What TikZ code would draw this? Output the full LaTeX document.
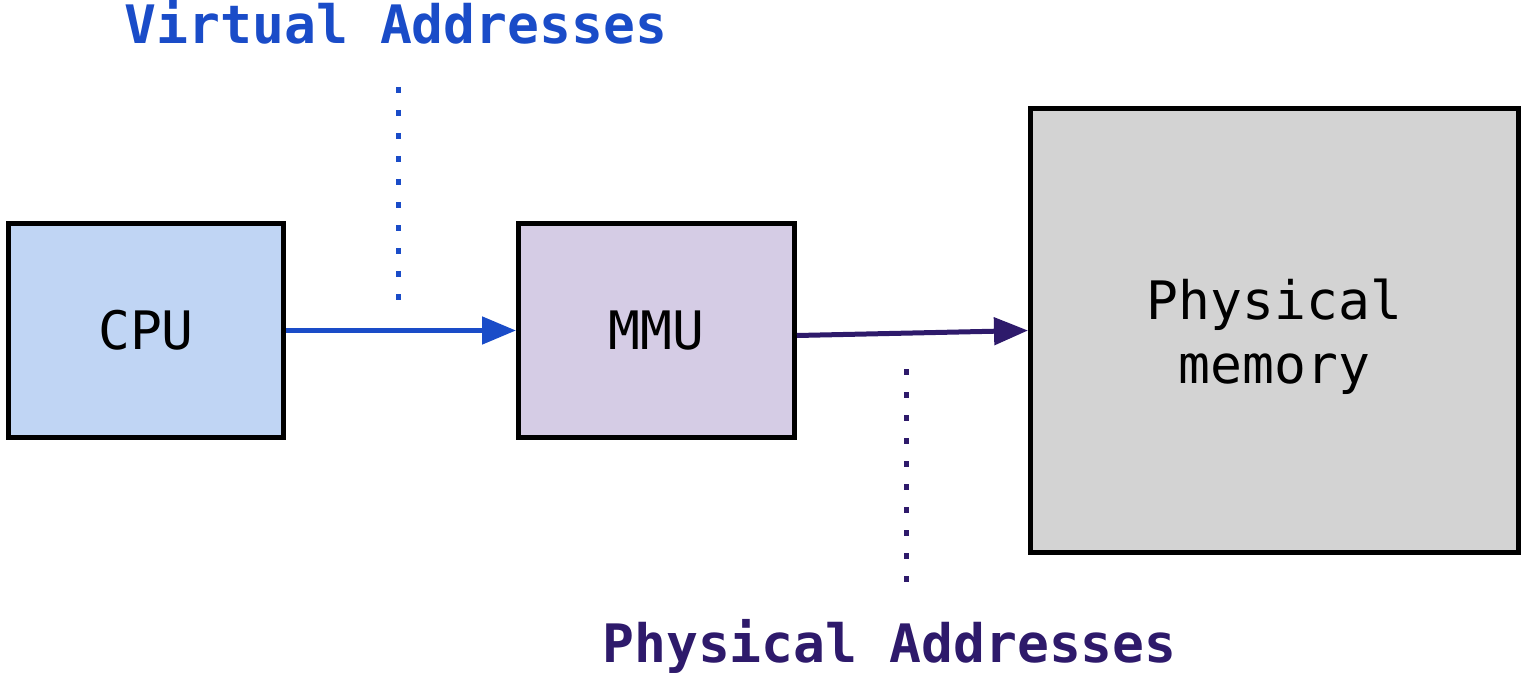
\documentclass[tikz,border=0pt]{standalone}
\usepackage{fontspec}
\setmonofont{DejaVu Sans Mono}
\usetikzlibrary{arrows.meta}

\definecolor{vblue}{RGB}{26,76,200}
\definecolor{ppurple}{RGB}{46,26,107}
\definecolor{cpufill}{RGB}{192,213,244}
\definecolor{mmufill}{RGB}{213,204,229}
\definecolor{memfill}{RGB}{211,211,211}

\tikzset{
  unit/.style={draw=black, line width=5pt, inner sep=0pt, align=center,
    font=\ttfamily\fontsize{53}{64}\selectfont},
  unittext/.style={inner sep=0pt, align=center,
    font=\ttfamily\fontsize{53}{64}\selectfont},
  flow/.style={line width=5pt, -{Triangle[length=34pt,width=27pt]}},
  dots/.style={line width=5pt, dash pattern=on 6pt off 17pt},
  caption/.style={anchor=base, font=\ttfamily\bfseries\fontsize{53}{63}\selectfont}
}

\begin{document}
\begin{tikzpicture}[x=1pt, y=-1pt]
  \useasboundingbox (0,0) rectangle (1524,682);

  % processing units and memory
  \node[unit, fill=cpufill, minimum width=275pt, minimum height=214pt] (cpu) at (146,330.5) {CPU};
  \node[unit, fill=mmufill, minimum width=276pt, minimum height=214pt] (mmu) at (656.5,330.5) {MMU};
  \node[unit, fill=memfill, minimum width=488pt, minimum height=444pt] (mem) at (1274.5,330.5) {};
  \node[unittext] (memtext) at (1274.5,337) {Physical\\memory};

  % address flow
  \draw[flow, vblue] (cpu.east) -- (mmu.west);
  \draw[flow, ppurple] ([yshift=-5pt]mmu.east) -- (mem.west);

  % address space captions with dotted leaders
  \node[caption, text=vblue] (vcap) at (396,44) {Virtual Addresses};
  \node[caption, text=ppurple] (pcap) at (889.5,662) {Physical Addresses};
  \coordinate (vtop) at (398,87);
  \coordinate (vbot) at (398,302);
  \coordinate (ptop) at (906,369);
  \coordinate (pbot) at (906,584);
  \draw[dots, vblue] (vtop) -- (vbot);
  \draw[dots, ppurple] (ptop) -- (pbot);
\end{tikzpicture}
\end{document}
